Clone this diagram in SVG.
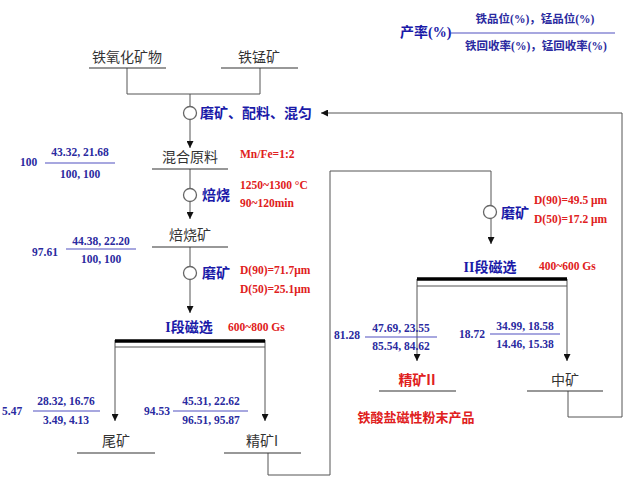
<svg xmlns="http://www.w3.org/2000/svg" width="624" height="477" viewBox="0 0 624 477">
<style>
.lbl{font-family:"Noto Sans CJK SC","Noto Sans",sans-serif;font-size:14px;fill:#333}
.op{font-family:"Liberation Serif","Noto Sans CJK SC",serif;font-weight:bold;font-size:14px;fill:#1a1aa8}
.red{font-family:"Liberation Serif","Noto Sans CJK SC",serif;font-weight:bold;font-size:11.5px;fill:#e02020}
.num{font-family:"Liberation Serif","Noto Sans CJK SC",serif;font-weight:bold;font-size:11.5px;fill:#2a2aa0}
.frac{stroke:#5050c0;stroke-width:1.2}
.ul{stroke:#333;stroke-width:1.2}
.ln{fill:none;stroke:#555;stroke-width:1}
.circ{fill:#fff;stroke:#666;stroke-width:1.3}
.bar{stroke:#000;stroke-width:3.5}
</style>
<defs>
<marker id="ah" viewBox="0 0 10 10" refX="10" refY="5" markerWidth="7" markerHeight="7" markerUnits="userSpaceOnUse" orient="auto">
<path d="M0,0 L10,5 L0,10 z" fill="#111"/>
</marker>
</defs>

<g id="legend">
<text class="op" x="400" y="37" font-size="12">产率(%)</text>
<line class="frac" x1="451" y1="33" x2="615" y2="33"/>
<text class="num" x="535" y="23" text-anchor="middle" font-size="13">铁品位(%)，锰品位(%)</text>
<text class="num" x="536" y="50" text-anchor="middle" font-size="13">铁回收率(%)，锰回收率(%)</text>
</g>

<g id="connectors">
<polyline class="ln" points="127,68 127,94 260,94 260,68"/>
<line class="ln" x1="190" y1="94" x2="190" y2="148" marker-end="url(#ah)"/>
<line class="ln" x1="190" y1="169" x2="190" y2="219" marker-end="url(#ah)"/>
<line class="ln" x1="190" y1="247" x2="190" y2="313" marker-end="url(#ah)"/>
<line class="ln" x1="115" y1="340" x2="115" y2="421" marker-end="url(#ah)"/>
<line class="ln" x1="265" y1="340" x2="265" y2="421" marker-end="url(#ah)"/>
<polyline class="ln" points="268,453 268,475 330,475 330,171 491,171 491,244" marker-end="url(#ah)"/>
<line class="ln" x1="417" y1="279" x2="417" y2="361" marker-end="url(#ah)"/>
<line class="ln" x1="567" y1="279" x2="567" y2="361" marker-end="url(#ah)"/>
<polyline class="ln" points="568,391 568,417 622,417 622,113 321,113" marker-end="url(#ah)"/>
</g>

<g id="n_feo">
<text class="lbl" x="127" y="62" text-anchor="middle">铁氧化矿物</text>
<line class="ul" x1="89" y1="68" x2="166" y2="68"/>
</g>
<g id="n_femn">
<text class="lbl" x="259" y="62" text-anchor="middle">铁锰矿</text>
<line class="ul" x1="221" y1="68" x2="298" y2="68"/>
</g>

<g id="op_mix">
<circle class="circ" cx="190" cy="113" r="6.5"/>
<text class="op" x="200" y="118">磨矿、配料、混匀</text>
</g>

<g id="n_raw">
<text class="lbl" x="190" y="162" text-anchor="middle">混合原料</text>
<line class="ul" x1="152" y1="169" x2="228" y2="169"/>
<text class="red" x="240" y="158">Mn/Fe=1:2</text>
<text class="num" x="20" y="166">100</text>
<text class="num" x="80" y="156" text-anchor="middle">43.32, 21.68</text>
<line class="frac" x1="45" y1="163" x2="115" y2="163"/>
<text class="num" x="80" y="178" text-anchor="middle">100, 100</text>
</g>

<g id="op_roast">
<circle class="circ" cx="190" cy="195" r="6.5"/>
<text class="op" x="202" y="200">焙烧</text>
<text class="red" x="240" y="189">1250~1300 °C</text>
<text class="red" x="240" y="207">90~120min</text>
</g>

<g id="n_roasted">
<text class="lbl" x="190" y="240" text-anchor="middle">焙烧矿</text>
<line class="ul" x1="152" y1="247" x2="228" y2="247"/>
<text class="num" x="32" y="256">97.61</text>
<text class="num" x="101" y="245" text-anchor="middle">44.38, 22.20</text>
<line class="frac" x1="66" y1="249" x2="136" y2="249"/>
<text class="num" x="101" y="263" text-anchor="middle">100, 100</text>
</g>

<g id="op_grind1">
<circle class="circ" cx="190" cy="273" r="6.5"/>
<text class="op" x="202" y="278">磨矿</text>
<text class="red" x="240" y="274">D(90)=71.7μm</text>
<text class="red" x="240" y="293">D(50)=25.1μm</text>
</g>

<g id="n_mag1">
<text class="op" x="189" y="332" text-anchor="middle">I段磁选</text>
<text class="red" x="228" y="331">600~800 Gs</text>
<line class="bar" x1="115" y1="341" x2="265" y2="341"/>
<line class="ln" x1="115" y1="347" x2="265" y2="347"/>
</g>

<g id="n_tail">
<text class="lbl" x="116" y="446" text-anchor="middle">尾矿</text>
<line class="ul" x1="77" y1="453" x2="155" y2="453"/>
<text class="num" x="2" y="415">5.47</text>
<text class="num" x="66" y="405" text-anchor="middle">28.32, 16.76</text>
<line class="frac" x1="33" y1="411" x2="100" y2="411"/>
<text class="num" x="66" y="424" text-anchor="middle">3.49, 4.13</text>
</g>

<g id="n_conc1">
<text class="lbl" x="262" y="446" text-anchor="middle">精矿I</text>
<line class="ul" x1="224" y1="453" x2="301" y2="453"/>
<text class="num" x="144" y="415">94.53</text>
<text class="num" x="211" y="405" text-anchor="middle">45.31, 22.62</text>
<line class="frac" x1="173" y1="411" x2="248" y2="411"/>
<text class="num" x="211" y="424" text-anchor="middle">96.51, 95.87</text>
</g>

<g id="op_grind2">
<circle class="circ" cx="490" cy="212" r="6.5"/>
<text class="op" x="501" y="218">磨矿</text>
<text class="red" x="534" y="204">D(90)=49.5 μm</text>
<text class="red" x="534" y="223">D(50)=17.2 μm</text>
</g>

<g id="n_mag2">
<text class="op" x="490" y="272" text-anchor="middle">II段磁选</text>
<text class="red" x="539" y="270">400~600 Gs</text>
<line class="bar" x1="417" y1="279" x2="567" y2="279"/>
<line class="ln" x1="417" y1="286" x2="567" y2="286"/>
</g>

<g id="n_conc2">
<text class="lbl" x="417" y="385" text-anchor="middle" style="fill:#e02020;font-weight:bold">精矿II</text>
<line class="ul" x1="379" y1="391" x2="456" y2="391"/>
<text class="lbl" x="416" y="422" text-anchor="middle" style="fill:#e02020;font-weight:bold;font-size:13px">铁酸盐磁性粉末产品</text>
<text class="num" x="334" y="339">81.28</text>
<text class="num" x="401" y="332" text-anchor="middle">47.69, 23.55</text>
<line class="frac" x1="365" y1="337" x2="437" y2="337"/>
<text class="num" x="401" y="350" text-anchor="middle">85.54, 84.62</text>
</g>

<g id="n_mid">
<text class="lbl" x="565" y="385" text-anchor="middle">中矿</text>
<line class="ul" x1="527" y1="391" x2="603" y2="391"/>
<text class="num" x="459" y="338">18.72</text>
<text class="num" x="525" y="330" text-anchor="middle">34.99, 18.58</text>
<line class="frac" x1="490" y1="334" x2="560" y2="334"/>
<text class="num" x="525" y="348" text-anchor="middle">14.46, 15.38</text>
</g>
</svg>
